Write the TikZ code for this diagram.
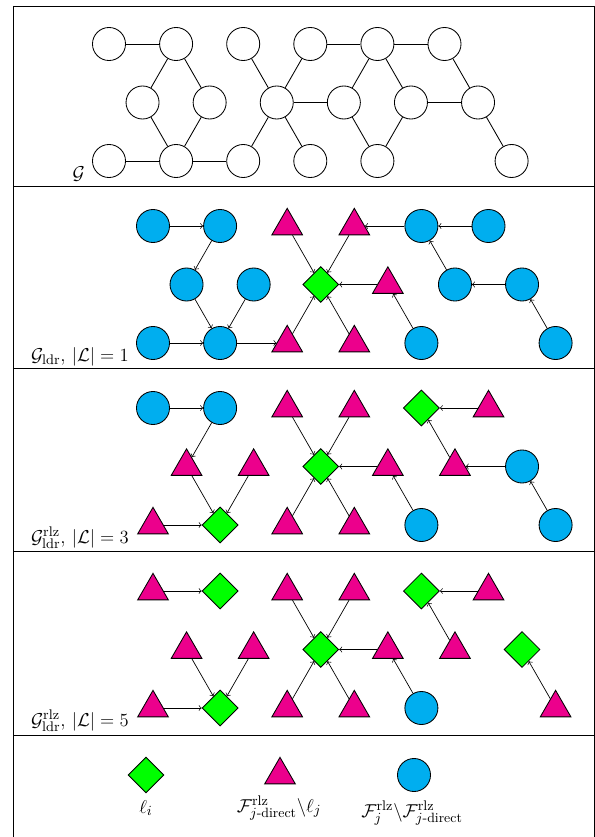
\documentclass[tikz,border=0pt]{standalone}
\usepackage{amsmath}
\usetikzlibrary{shapes.geometric}
\definecolor{folC}{RGB}{0,174,239}
\definecolor{dirC}{RGB}{236,0,140}
\definecolor{ldrC}{RGB}{0,255,0}
\tikzset{
  vtx/.style={circle, draw, inner sep=0pt, minimum size=21.3pt, line width=0.55pt},
  plain/.style={vtx, fill=white},
  fol/.style={vtx, fill=folC},
  dir/.style={regular polygon, regular polygon sides=3, draw, fill=dirC,
    inner sep=0pt, minimum size=22.8pt, line width=0.55pt},
  ldr/.style={diamond, draw, fill=ldrC, inner sep=0pt, aspect=1,
    minimum width=23.2pt, minimum height=23.2pt, line width=0.55pt},
  lnk/.style={line width=0.55pt},
  arc/.style={->, line width=0.45pt},
  tag/.style={anchor=base east, inner sep=0pt, font=\fontsize{12.4pt}{15pt}\selectfont},
  legtxt/.style={anchor=base, inner sep=0pt, font=\fontsize{12.4pt}{15pt}\selectfont},
  frame/.style={line width=0.6pt}
}
\begin{document}
\begin{tikzpicture}[x=0.645pt, y=-0.645pt]
\useasboundingbox (0,0) rectangle (595,837);

% frame and panel dividers
\draw[frame] (13,6) -- (594,6);
\draw[frame] (13,6) -- (13,840);
\draw[frame] (594,6) -- (594,840);
\foreach \yy in {186,368,551,735} \draw[frame] (13,\yy) -- (594,\yy);

% ---------- panel 1: the graph G ----------
\begin{scope}[shift={(109,44)}]
  \node[plain] (At0) at (0,0) {};
  \node[plain] (At2) at (67.1,0) {};
  \node[plain] (At4) at (134.2,0) {};
  \node[plain] (At6) at (201.3,0) {};
  \node[plain] (At8) at (268.4,0) {};
  \node[plain] (At10) at (335.5,0) {};
  \node[plain] (Am1) at (33.55,58.5) {};
  \node[plain] (Am3) at (100.65,58.5) {};
  \node[plain] (Am5) at (167.75,58.5) {};
  \node[plain] (Am7) at (234.85,58.5) {};
  \node[plain] (Am9) at (301.95,58.5) {};
  \node[plain] (Am11) at (369.05,58.5) {};
  \node[plain] (Ab0) at (0,117) {};
  \node[plain] (Ab2) at (67.1,117) {};
  \node[plain] (Ab4) at (134.2,117) {};
  \node[plain] (Ab6) at (201.3,117) {};
  \node[plain] (Ab8) at (268.4,117) {};
  \node[plain] (Ab12) at (402.6,117) {};
\end{scope}
\foreach \u/\v in {At0/At2, At2/Am1, At2/Am3, Am1/Ab2, Am3/Ab2, Ab0/Ab2, Ab2/Ab4,
  At4/Am5, Am5/At6, Am5/Am7, Am5/Ab4, Am5/Ab6, At6/At8, At8/At10, At8/Am7,
  At8/Am9, Am7/Ab8, Am9/Ab8, Am9/Am11, At10/Am11, Am11/Ab12}
  \draw[lnk] (\u) -- (\v);
\node[tag] (Atag) at ([shift={(-24,19)}]Ab0.center) {$\mathcal{G}$};

% ---------- panel 2: G_ldr, one leader ----------
\begin{scope}[shift={(153,226)}]
  \node[fol] (Bt0) at (0,0) {};
  \node[fol] (Bt2) at (67.1,0) {};
  \node[dir] (Bt4) at (134.2,0) {};
  \node[dir] (Bt6) at (201.3,0) {};
  \node[fol] (Bt8) at (268.4,0) {};
  \node[fol] (Bt10) at (335.5,0) {};
  \node[fol] (Bm1) at (33.55,58.5) {};
  \node[fol] (Bm3) at (100.65,58.5) {};
  \node[ldr] (Bm5) at (167.75,58.5) {};
  \node[dir] (Bm7) at (234.85,58.5) {};
  \node[fol] (Bm9) at (301.95,58.5) {};
  \node[fol] (Bm11) at (369.05,58.5) {};
  \node[fol] (Bb0) at (0,117) {};
  \node[fol] (Bb2) at (67.1,117) {};
  \node[dir] (Bb4) at (134.2,117) {};
  \node[dir] (Bb6) at (201.3,117) {};
  \node[fol] (Bb8) at (268.4,117) {};
  \node[fol] (Bb12) at (402.6,117) {};
\end{scope}
\foreach \u/\v in {Bt0/Bt2, Bt2/Bm1, Bm1/Bb2, Bm3/Bb2, Bb0/Bb2, Bb2/Bb4,
  Bt4/Bm5, Bt6/Bm5, Bb4/Bm5, Bb6/Bm5, Bm7/Bm5, Bb8/Bm7, Bt8/Bt6, Bt10/Bt8,
  Bm9/Bt8, Bm11/Bm9, Bb12/Bm11}
  \draw[arc] (\u) -- (\v);
\node[tag] (Btag) at ([shift={(-24,18)}]Bb0.center)
  {$\mathcal{G}_{\mathrm{ldr}}$, $|\mathcal{L}|=1$};

% ---------- panel 3: three leaders ----------
\begin{scope}[shift={(153,408)}]
  \node[fol] (Ct0) at (0,0) {};
  \node[fol] (Ct2) at (67.1,0) {};
  \node[dir] (Ct4) at (134.2,0) {};
  \node[dir] (Ct6) at (201.3,0) {};
  \node[ldr] (Ct8) at (268.4,0) {};
  \node[dir] (Ct10) at (335.5,0) {};
  \node[dir] (Cm1) at (33.55,58.5) {};
  \node[dir] (Cm3) at (100.65,58.5) {};
  \node[ldr] (Cm5) at (167.75,58.5) {};
  \node[dir] (Cm7) at (234.85,58.5) {};
  \node[dir] (Cm9) at (301.95,58.5) {};
  \node[fol] (Cm11) at (369.05,58.5) {};
  \node[dir] (Cb0) at (0,117) {};
  \node[ldr] (Cb2) at (67.1,117) {};
  \node[dir] (Cb4) at (134.2,117) {};
  \node[dir] (Cb6) at (201.3,117) {};
  \node[fol] (Cb8) at (268.4,117) {};
  \node[fol] (Cb12) at (402.6,117) {};
\end{scope}
\foreach \u/\v in {Ct0/Ct2, Ct2/Cm1, Cm1/Cb2, Cm3/Cb2, Cb0/Cb2,
  Ct4/Cm5, Ct6/Cm5, Cb4/Cm5, Cb6/Cm5, Cm7/Cm5, Cb8/Cm7, Ct10/Ct8,
  Cm9/Ct8, Cm11/Cm9, Cb12/Cm11}
  \draw[arc] (\u) -- (\v);
\node[tag] (Ctag) at ([shift={(-24,18)}]Cb0.center)
  {$\mathcal{G}^{\mathrm{rlz}}_{\mathrm{ldr}}$, $|\mathcal{L}|=3$};

% ---------- panel 4: five leaders ----------
\begin{scope}[shift={(153,591)}]
  \node[dir] (Dt0) at (0,0) {};
  \node[ldr] (Dt2) at (67.1,0) {};
  \node[dir] (Dt4) at (134.2,0) {};
  \node[dir] (Dt6) at (201.3,0) {};
  \node[ldr] (Dt8) at (268.4,0) {};
  \node[dir] (Dt10) at (335.5,0) {};
  \node[dir] (Dm1) at (33.55,58.5) {};
  \node[dir] (Dm3) at (100.65,58.5) {};
  \node[ldr] (Dm5) at (167.75,58.5) {};
  \node[dir] (Dm7) at (234.85,58.5) {};
  \node[dir] (Dm9) at (301.95,58.5) {};
  \node[ldr] (Dm11) at (369.05,58.5) {};
  \node[dir] (Db0) at (0,117) {};
  \node[ldr] (Db2) at (67.1,117) {};
  \node[dir] (Db4) at (134.2,117) {};
  \node[dir] (Db6) at (201.3,117) {};
  \node[fol] (Db8) at (268.4,117) {};
  \node[dir] (Db12) at (402.6,117) {};
\end{scope}
\foreach \u/\v in {Dt0/Dt2, Dm1/Db2, Dm3/Db2, Db0/Db2,
  Dt4/Dm5, Dt6/Dm5, Db4/Dm5, Db6/Dm5, Dm7/Dm5, Db8/Dm7, Dt10/Dt8,
  Dm9/Dt8, Db12/Dm11}
  \draw[arc] (\u) -- (\v);
\node[tag] (Dtag) at ([shift={(-24,18)}]Db0.center)
  {$\mathcal{G}^{\mathrm{rlz}}_{\mathrm{ldr}}$, $|\mathcal{L}|=5$};

% ---------- legend ----------
\node[ldr] (Lldr) at (146,775) {};
\node[dir] (Ldir) at (280,775) {};
\node[fol] (Lfol) at (414,775) {};
\node[legtxt] (Lldrtxt) at (146,813) {$\ell_i$};
\node[legtxt] (Ldirtxt) at (279,812)
  {$\mathcal{F}^{\mathrm{rlz}}_{j\text{-direct}}\backslash\ell_j$};
\node[legtxt] (Lfoltxt) at (412,817)
  {$\mathcal{F}^{\mathrm{rlz}}_{j}\backslash\mathcal{F}^{\mathrm{rlz}}_{j\text{-direct}}$};
\end{tikzpicture}
\end{document}
